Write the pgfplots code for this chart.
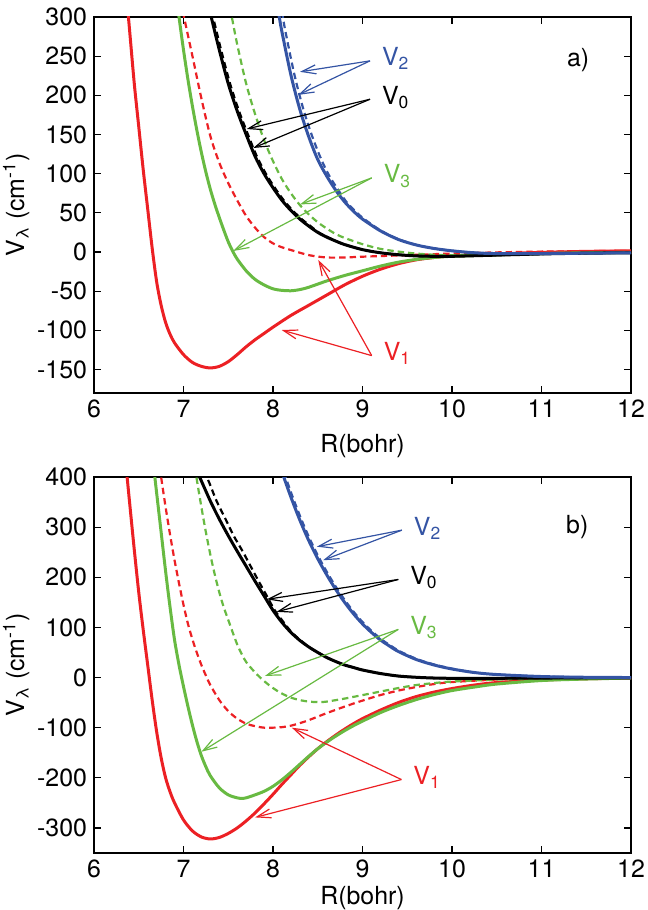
\documentclass[border=0pt]{standalone}
\usepackage{fontspec}
\setmainfont{TeX Gyre Heros}
\usepackage{pgfplots}
\pgfplotsset{compat=1.18}
\usetikzlibrary{arrows.meta}
\definecolor{cred}{RGB}{236,32,36}
\definecolor{cgreen}{RGB}{104,186,66}
\definecolor{cblue}{RGB}{52,84,164}
\pgfplotsset{
  myaxis/.style={
    scale only axis, width=268.5bp, height=188bp, anchor=south west,
    xmin=6, xmax=12, xtick={6,...,12},
    axis line style={line width=0.9bp},
    tick style={line width=0.6bp, black},
    major tick length=3.5bp, tick align=inside,
    /pgf/number format/assume math mode=true,
    ticklabel style={font=\fontsize{12.5}{15}\selectfont},
    label style={font=\fontsize{12.5}{15}\selectfont},
    ylabel shift=-3bp,
    clip=true,
  },
  sol/.style={line width=1.5bp, no markers, smooth, tension=0.5},
  dsh/.style={line width=1.1bp, no markers, smooth, tension=0.5, dash pattern=on 3.2bp off 2bp},
}
\tikzset{arr/.style={-{Straight Barb[length=7bp,width=4.5bp]}, line width=0.6bp},
  lab/.style={anchor=base west, xshift=2.5bp, yshift=-2.5bp, font=\fontsize{12.5}{15}\selectfont}}
\begin{document}
\begin{tikzpicture}
\useasboundingbox (0,0) rectangle (324bp,455bp);
% ---------- panel a ----------
\begin{axis}[myaxis, at={(47bp,258.5bp)}, ymin=-180, ymax=300, ytick={-150,-100,...,300},
  xlabel={R(bohr)}, xlabel style={yshift=-1.5bp}, ylabel={V\textsubscript{λ} (cm\textsuperscript{-1})}]
% V1
\addplot[sol, cred] coordinates {(6.35,345) (6.40,280) (6.45,215) (6.50,160) (6.55,105) (6.60,55) (6.65,5) (6.70,-38) (6.75,-68) (6.80,-90) (6.85,-105) (6.90,-116) (7.00,-131) (7.10,-141) (7.20,-146) (7.30,-148) (7.40,-146) (7.50,-140) (7.60,-131) (7.70,-121) (7.80,-112) (7.90,-104) (8.00,-96) (8.20,-81) (8.40,-68) (8.60,-55) (8.80,-42) (9.00,-31) (9.20,-22) (9.40,-15) (9.60,-10) (9.80,-7) (10.0,-5) (10.5,-2.5) (11.0,-0.5) (11.5,0.8) (12.0,1.5)};
\addplot[dsh, cred] coordinates {(6.97,320) (7.00,303) (7.10,250) (7.20,196) (7.30,148) (7.40,114) (7.50,88) (7.60,66) (7.70,46) (7.80,31) (7.90,19) (8.00,11) (8.10,6) (8.20,2.5) (8.40,-4) (8.60,-7) (8.80,-7) (9.00,-6) (9.50,-4) (10.0,-2) (10.5,-0.5) (11.0,0.5) (11.5,1) (12.0,1.5)};
% V3
\addplot[sol, cgreen] coordinates {(6.92,330) (6.95,300) (7.00,258) (7.05,220) (7.10,186) (7.15,155) (7.20,127) (7.25,102) (7.30,80) (7.35,61) (7.40,44) (7.45,28) (7.50,13) (7.55,1) (7.60,-9) (7.70,-24) (7.80,-35) (7.90,-42) (8.00,-47) (8.10,-49) (8.20,-49.5) (8.30,-48) (8.40,-45) (8.60,-37) (8.80,-30) (9.00,-24) (9.20,-18) (9.40,-13) (9.60,-9.5) (9.80,-7) (10.0,-5.5) (10.5,-3.5) (11.0,-2) (11.5,-1) (12.0,-0.5)};
\addplot[dsh, cgreen] coordinates {(7.50,325) (7.54,300) (7.60,265) (7.70,215) (7.80,176) (7.90,143) (8.00,116) (8.10,93) (8.20,75) (8.30,60) (8.40,48) (8.50,38) (8.60,30) (8.70,23) (8.80,18) (9.00,10) (9.20,4) (9.40,0.5) (9.60,-2) (9.80,-3.5) (10.0,-4) (10.5,-3) (11.0,-2) (11.5,-1) (12.0,-0.5)};
% V0
\addplot[sol, black] coordinates {(7.28,320) (7.30,305) (7.40,258) (7.50,215) (7.60,180) (7.70,150) (7.80,122) (7.90,100) (8.00,82) (8.10,66) (8.20,53) (8.30,42) (8.40,33) (8.50,25) (8.60,19) (8.70,14) (8.80,9.5) (9.00,3) (9.20,-1) (9.40,-3.5) (9.60,-5) (9.80,-5.5) (10.0,-5.5) (10.5,-4) (11.0,-2.5) (11.5,-1.5) (12.0,-1)};
\addplot[dsh, black] coordinates {(7.30,320) (7.32,305) (7.42,258) (7.52,215) (7.62,180) (7.72,150) (7.82,122) (7.92,100) (8.02,82) (8.12,66) (8.22,53) (8.32,42) (8.42,33) (8.51,25) (8.61,19) (8.70,14) (8.80,9.5) (9.00,3) (9.20,-1) (9.40,-3.5) (9.60,-5) (9.80,-5.5) (10.0,-5.5) (10.5,-4) (11.0,-2.5) (11.5,-1.5) (12.0,-1)};
% V2
\addplot[sol, cblue] coordinates {(8.04,320) (8.07,300) (8.10,281) (8.20,226) (8.30,182) (8.40,147) (8.50,118) (8.60,97) (8.70,79) (8.80,64) (8.90,52) (9.00,42) (9.20,27) (9.40,16) (9.60,9) (9.80,4.5) (10.0,1.5) (10.25,-1) (10.5,-2) (11.0,-2) (11.5,-1.5) (12.0,-1)};
\addplot[dsh, cblue] coordinates {(8.08,320) (8.11,300) (8.14,281) (8.24,226) (8.34,182) (8.44,147) (8.54,118) (8.63,97) (8.73,79) (8.82,64) (8.92,52) (9.02,42) (9.21,27) (9.41,16) (9.60,9) (9.80,4.5) (10.0,1.5) (10.25,-1) (10.5,-2) (11.0,-2) (11.5,-1.5) (12.0,-1)};
% annotations
\draw[arr, cblue] (axis cs:9.084,244) -- (axis cs:8.302,230);
\draw[arr, cblue] (axis cs:9.084,244) -- (axis cs:8.283,200.6);
\node[lab, text=cblue] at (axis cs:9.084,244) {V\textsubscript{2}};
\draw[arr, black] (axis cs:9.084,195) -- (axis cs:7.706,157);
\draw[arr, black] (axis cs:9.084,195) -- (axis cs:7.780,132.8);
\node[lab, text=black] at (axis cs:9.084,195) {V\textsubscript{0}};
\draw[arr, cgreen] (axis cs:9.103,94.6) -- (axis cs:8.302,60.7);
\draw[arr, cgreen] (axis cs:9.103,94.6) -- (axis cs:7.556,1.3);
\node[lab, text=cgreen] at (axis cs:9.103,94.6) {V\textsubscript{3}};
\draw[arr, cred] (axis cs:9.103,-132.3) -- (axis cs:8.097,-99.6);
\draw[arr, cred] (axis cs:9.103,-132.3) -- (axis cs:8.506,-10.2);
\node[lab, text=cred] at (axis cs:9.103,-132.3) {V\textsubscript{1}};
\node[font=\fontsize{12.5}{15}\selectfont] at (axis cs:11.41,245) {a)};
\end{axis}
% ---------- panel b ----------
\begin{axis}[myaxis, at={(47bp,28.5bp)}, ymin=-350, ymax=400, ytick={-300,-200,...,400},
  xlabel={R(bohr)}, xlabel style={yshift=2.5bp}, ylabel={V\textsubscript{λ} (cm\textsuperscript{-1})}]
% V1
\addplot[sol, cred] coordinates {(6.35,440) (6.37,400) (6.40,345) (6.45,255) (6.50,170) (6.55,95) (6.60,25) (6.65,-45) (6.70,-108) (6.75,-160) (6.80,-200) (6.85,-228) (6.90,-250) (7.00,-284) (7.10,-306) (7.20,-318) (7.30,-322) (7.40,-319) (7.50,-311) (7.60,-300) (7.70,-286) (7.80,-270) (7.90,-252) (8.00,-233) (8.10,-213) (8.20,-194) (8.30,-175) (8.40,-158) (8.50,-142) (8.60,-128) (8.70,-115) (8.80,-103) (8.90,-92) (9.00,-82) (9.20,-65) (9.40,-50) (9.60,-38) (9.80,-29) (10.0,-22) (10.25,-15) (10.5,-10) (11.0,-5) (11.5,-2.5) (12.0,-1)};
\addplot[dsh, cred] coordinates {(6.72,440) (6.75,400) (6.80,340) (6.85,285) (6.90,234) (6.95,188) (7.00,145) (7.05,107) (7.10,76) (7.15,49) (7.20,25) (7.25,4) (7.30,-15) (7.40,-45) (7.50,-67) (7.60,-82) (7.70,-92) (7.80,-97) (7.90,-100) (8.00,-100) (8.10,-99) (8.20,-96) (8.30,-91) (8.40,-85) (8.60,-71) (8.80,-58) (9.00,-46) (9.20,-35) (9.40,-26) (9.60,-19) (9.80,-13) (10.0,-9) (10.5,-4) (11.0,-1.5) (11.5,-0.5) (12.0,0)};
% V3
\addplot[sol, cgreen] coordinates {(6.66,440) (6.68,400) (6.70,368) (6.75,290) (6.80,212) (6.85,140) (6.90,75) (6.95,25) (7.00,-18) (7.05,-58) (7.10,-95) (7.15,-128) (7.20,-156) (7.25,-178) (7.30,-196) (7.40,-220) (7.50,-234) (7.60,-240) (7.65,-241) (7.70,-240) (7.80,-234) (7.90,-227) (8.00,-217) (8.10,-204) (8.20,-189) (8.30,-173) (8.40,-157) (8.50,-142) (8.60,-129) (8.70,-117) (8.80,-106) (8.90,-96) (9.00,-87) (9.20,-70) (9.40,-56) (9.60,-44) (9.80,-34) (10.0,-26) (10.25,-19) (10.5,-13) (11.0,-6) (11.5,-3) (12.0,-1)};
\addplot[dsh, cgreen] coordinates {(7.12,440) (7.14,405) (7.20,340) (7.25,290) (7.30,245) (7.35,205) (7.40,170) (7.45,140) (7.50,115) (7.55,90) (7.60,66) (7.65,47) (7.70,31) (7.80,10) (7.90,-7) (8.00,-21) (8.10,-32) (8.20,-40) (8.30,-45) (8.40,-48) (8.50,-49) (8.60,-48) (8.80,-42) (9.00,-35) (9.20,-28) (9.40,-21) (9.60,-15) (9.80,-11) (10.0,-8) (10.5,-4) (11.0,-2) (11.5,-1) (12.0,0)};
% V0
\addplot[sol, black] coordinates {(7.10,432) (7.20,392) (7.30,352) (7.40,316) (7.50,283) (7.60,252) (7.70,222) (7.80,192) (7.90,163) (8.00,134) (8.10,110) (8.20,90) (8.30,74) (8.40,61) (8.50,50) (8.60,40) (8.70,32) (8.80,25) (8.90,20) (9.00,15) (9.20,8) (9.40,3) (9.60,0.5) (9.80,-1) (10.0,-1.5) (10.5,-1.5) (11.0,-1) (12.0,-0.5)};
\addplot[dsh, black] coordinates {(7.18,432) (7.28,392) (7.37,352) (7.47,316) (7.56,283) (7.66,252) (7.75,222) (7.84,192) (7.93,163) (8.02,134) (8.12,110) (8.21,90) (8.31,74) (8.40,61) (8.50,50) (8.60,40) (8.70,32) (8.80,25) (8.90,20) (9.00,15) (9.20,8) (9.40,3) (9.60,0.5) (9.80,-1) (10.0,-1.5) (10.5,-1.5) (11.0,-1) (12.0,-0.5)};
% V2
\addplot[sol, cblue] coordinates {(8.10,410) (8.12,400) (8.20,360) (8.30,314) (8.40,273) (8.50,237) (8.60,205) (8.70,176) (8.80,150) (8.90,127) (9.00,107) (9.10,90) (9.20,75) (9.30,63) (9.40,52) (9.60,36) (9.80,25) (10.0,17) (10.25,10) (10.5,6) (11.0,2) (11.5,0.5) (12.0,0)};
\addplot[dsh, cblue] coordinates {(8.12,410) (8.14,400) (8.22,360) (8.32,314) (8.42,273) (8.52,237) (8.62,205) (8.72,176) (8.82,150) (8.92,127) (9.02,107) (9.12,90) (9.22,75) (9.32,63) (9.42,52) (9.62,36) (9.82,25) (10.02,17) (10.25,10) (10.5,6) (11.0,2) (11.5,0.5) (12.0,0)};
% annotations
\draw[arr, cblue] (axis cs:9.44,294) -- (axis cs:8.49,261);
\draw[arr, cblue] (axis cs:9.44,294) -- (axis cs:8.56,234);
\node[lab, text=cblue] at (axis cs:9.44,294) {V\textsubscript{2}};
\draw[arr, black] (axis cs:9.40,195.6) -- (axis cs:7.93,156);
\draw[arr, black] (axis cs:9.40,195.6) -- (axis cs:8.04,131);
\node[lab, text=black] at (axis cs:9.40,195.6) {V\textsubscript{0}};
\draw[arr, cgreen] (axis cs:9.40,96) -- (axis cs:7.91,3.2);
\draw[arr, cgreen] (axis cs:9.40,96) -- (axis cs:7.20,-148);
\node[lab, text=cgreen] at (axis cs:9.40,96) {V\textsubscript{3}};
\draw[arr, cred] (axis cs:9.435,-203.5) -- (axis cs:8.21,-100);
\draw[arr, cred] (axis cs:9.435,-203.5) -- (axis cs:7.80,-279);
\node[lab, text=cred] at (axis cs:9.435,-203.5) {V\textsubscript{1}};
\node[font=\fontsize{12.5}{15}\selectfont] at (axis cs:11.40,301) {b)};
\end{axis}
\end{tikzpicture}
\end{document}
